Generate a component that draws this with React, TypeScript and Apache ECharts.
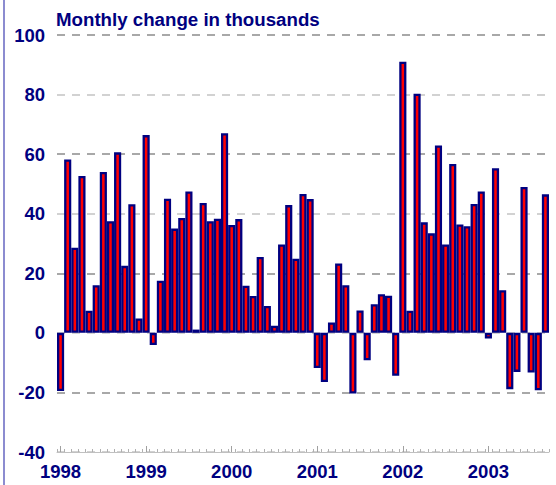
import React, { useEffect, useRef } from "react";
import * as echarts from "echarts";

const years = ["1998", "1999", "2000", "2001", "2002", "2003"];
const monthsPerYear = 12;
const monthsIn2003 = 9;

const values1998 = [-19.5, 58.2, 28.6, 52.7, 7.4, 16.0, 54.0, 37.5, 60.6, 22.5, 43.2, 4.8];
const values1999 = [66.4, -4.1, 17.5, 45.0, 35.0, 38.6, 47.5, 1.1, 43.6, 37.5, 38.3, 67.0];
const values2000 = [36.2, 38.2, 15.8, 12.4, 25.5, 9.0, 2.4, 29.7, 42.9, 24.9, 46.6, 44.9];
const values2001 = [-11.8, -16.5, 3.5, 23.3, 16.0, -20.4, 7.5, -9.2, 9.6, 13.0, 12.5, -14.4];
const values2002 = [91.0, 7.4, 80.3, 37.1, 33.4, 62.9, 29.7, 56.7, 36.4, 35.8, 43.3, 47.5];
const values2003 = [-1.9, 55.3, 14.3, -18.9, -13.1, 49.0, -13.3, -19.3, 46.5];

const values = [
  ...values1998,
  ...values1999,
  ...values2000,
  ...values2001,
  ...values2002,
  ...values2003,
];

const categories: string[] = [];
years.forEach((y, yi) => {
  const n = yi === years.length - 1 ? monthsIn2003 : monthsPerYear;
  for (let m = 1; m <= n; m++) {
    categories.push(y + "-" + String(m).padStart(2, "0"));
  }
});

const NAVY = "#000080";
const FONT = "'Liberation Sans', Arial, sans-serif";

export default function App() {
  const ref = useRef<HTMLDivElement>(null);
  useEffect(() => {
    if (!ref.current) return;
    const chart = echarts.init(ref.current, undefined, { renderer: "svg" });
    chart.setOption({
      animation: false,
      backgroundColor: "#ffffff",
      title: {
        text: "Monthly change in thousands",
        left: 56,
        top: 10,
        padding: 0,
        textStyle: { color: NAVY, fontSize: 18.7, fontWeight: "bold", fontFamily: FONT },
      },
      graphic: [
        { type: "rect", left: 3, top: 0, shape: { x: 0, y: 0, width: 2, height: 485 }, style: { fill: "#8c8cd0" } },
      ],
      grid: { left: 57, right: 7, top: 35, bottom: 33, containLabel: false },
      xAxis: [
        {
          type: "category",
          data: categories,
          boundaryGap: true,
          axisLine: { onZero: false, lineStyle: { color: "#c0c0c0", width: 1 } },
          axisTick: { show: true, inside: true, length: 3, interval: 0, lineStyle: { color: "#b0b0b0" } },
          axisLabel: {
            interval: (idx: number) => idx % 12 === 0,
            color: NAVY,
            fontSize: 18.5,
            fontWeight: "bold",
            fontFamily: FONT,
            margin: 10,
            formatter: (v: string) => v.slice(0, 4),
          },
          splitLine: { show: false },
        },
        {
          type: "category",
          data: categories,
          position: "bottom",
          axisLine: { show: false, onZero: false },
          axisTick: {
            show: true,
            inside: true,
            length: 6,
            alignWithLabel: true,
            interval: (idx: number) => idx % 12 === 0,
            lineStyle: { color: "#a0a0a0" },
          },
          axisLabel: { show: false },
          splitLine: { show: false },
        },
      ],
      yAxis: {
        type: "value",
        min: -40,
        max: 100,
        interval: 20,
        axisLine: { show: false },
        axisTick: { show: false },
        axisLabel: {
          color: NAVY,
          fontSize: 18.5,
          fontWeight: "bold",
          fontFamily: FONT,
          margin: 12,
        },
        splitLine: {
          show: true,
          lineStyle: { color: ["#c4c4c4", "#8c8c8c"], type: [8, 7], width: 1.5 },
        },
      },
      series: [
        {
          type: "bar",
          data: values,
          xAxisIndex: 0,
          barWidth: "100%",
          itemStyle: { color: "#ff0000", borderColor: NAVY, borderWidth: 2.3 },
        },
      ],
    });
    return () => chart.dispose();
  }, []);
  return (
    <div
      ref={ref}
      style={{ position: "fixed", left: 0, top: 0, width: 556, height: 485 }}
    />
  );
}
